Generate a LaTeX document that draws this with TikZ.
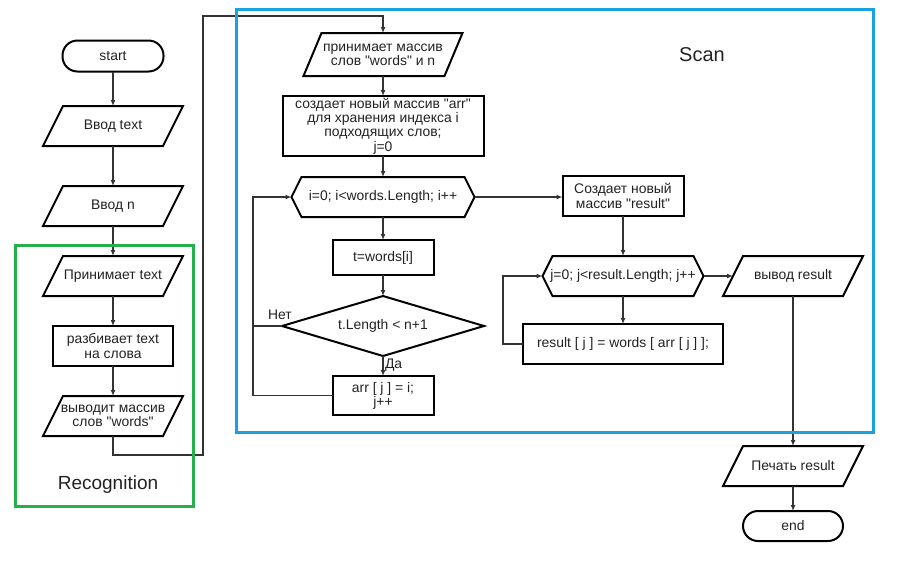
\documentclass[tikz,border=0pt]{standalone}
\usepackage{fontspec}
\setmainfont{Liberation Sans}[Ligatures=TeXOff]
\usetikzlibrary{arrows.meta,calc}
\definecolor{scanblue}{RGB}{27,161,226}
\definecolor{recgreen}{RGB}{38,176,76}
\definecolor{lnk}{RGB}{51,51,51}
\definecolor{txt}{RGB}{34,34,34}
\begin{document}
\begin{tikzpicture}[x=1pt,y=-1pt,
  every node/.style={font=\fontsize{13.9}{14.2}\selectfont, text=txt, align=center, inner sep=0pt, outer sep=0pt},
  shp/.style={draw=black, line width=2pt, line join=miter},
  boxnode/.style={shp, rectangle},
  termnode/.style={shp, rectangle, rounded corners=15pt},
  ghost/.style={rectangle, draw=none},
  conn/.style={draw=lnk, line width=1.8pt, -{Latex[length=6pt,width=5pt]}},
  plainconn/.style={draw=lnk, line width=1.8pt},
  frame/.style={line width=3pt}
]
\useasboundingbox (0,0) rectangle (916,566);

% left column
\node[termnode, minimum width=101, minimum height=31] (start) at (113,56) {start};
\node[ghost, minimum width=120, minimum height=40] (in1) at (113,126) {Ввод text};
\node[ghost, minimum width=120, minimum height=40] (in2) at (113,206) {Ввод n};
\node[ghost, minimum width=120, minimum height=40] (p1) at (113,276) {Принимает text};
\node[boxnode, minimum width=120, minimum height=40] (r1) at (113,346) {разбивает text\\на слова};
\node[ghost, minimum width=120, minimum height=40] (p2) at (113,416) {выводит массив\\слов "words"};

% scan column
\node[ghost, minimum width=141, minimum height=43] (p3) at (383,54.5) {принимает массив\\слов "words" и n};
\node[boxnode, minimum width=201, minimum height=60] (r2) at (383,126) {создает новый массив "arr"\\для хранения индекса i\\подходящих слов;\\j=0};
\node[ghost, minimum width=183, minimum height=40] (h1) at (383,197) {i=0; i<words.Length; i++};
\node[boxnode, minimum width=101, minimum height=35] (r3) at (383,257.5) {t=words[i]};
\node[ghost, minimum width=202, minimum height=60] (d1) at (383,326) {t.Length < n+1};
\node[boxnode, minimum width=101, minimum height=39] (r4) at (383,395.5) {arr [ j ] = i;\\j++};

\node[boxnode, minimum width=121, minimum height=40] (r5) at (623,196) {Создает новый\\массив "result"};
\node[ghost, minimum width=161, minimum height=40] (h2) at (623,276) {j=0; j<result.Length; j++};
\node[boxnode, minimum width=200, minimum height=40] (r6) at (623,344) {result [ j ] = words [ arr [ j ] ];};
\node[ghost, minimum width=120, minimum height=40] (p4) at (793,276) {вывод result};

\node[ghost, minimum width=120, minimum height=40] (p5) at (793,466) {Печать result};
\node[termnode, minimum width=100, minimum height=30] (end) at (793,526) {end};

% parallelograms
\foreach \n/\s in {in1/10,in2/10,p1/10,p2/10,p3/9,p4/10,p5/10}{
  \draw[shp] ($(\n.south west)+(-\s,0)$) -- ($(\n.north west)+(\s,0)$) -- ($(\n.north east)+(\s,0)$) -- ($(\n.south east)+(-\s,0)$) -- cycle;
}
% hexagons
\foreach \n in {h1,h2}{
  \draw[shp] (\n.west) -- ($(\n.north west)+(10,0)$) -- ($(\n.north east)+(-10,0)$) -- (\n.east) -- ($(\n.south east)+(-10,0)$) -- ($(\n.south west)+(10,0)$) -- cycle;
}
% diamond
\draw[shp] (d1.west) -- (d1.north) -- (d1.east) -- (d1.south) -- cycle;

% connectors left
\draw[conn] (start.south) -- (in1.north);
\draw[conn] (in1.south) -- (in2.north);
\draw[conn] (in2.south) -- (p1.north);
\draw[conn] (p1.south) -- (r1.north);
\draw[conn] (r1.south) -- (p2.north);
\coordinate (c1) at (113,455);
\coordinate (c2) at (203,455);
\coordinate (c3) at (203,16);
\coordinate (c4) at (383,16);
\draw[conn] (p2.south) -- (c1) -- (c2) -- (c3) -- (c4) -- (p3.north);

% scan connectors
\draw[conn] (p3.south) -- (r2.north);
\draw[conn] (r2.south) -- (h1.north);
\draw[conn] (h1.south) -- (r3.north);
\draw[conn] (r3.south) -- (d1.north);
\draw[conn] (d1.south) -- node[right=2pt, pos=0.45] (da) {Да} (r4.north);
\coordinate (l1) at (253,326);
\coordinate (l2) at (253,395.5);
\coordinate (l3) at (253,197);
\draw[plainconn] (d1.west) -- (l1);
\draw[conn] (r4.west) -- (l2) -- (l3) -- (h1.west);
\node (net) at (280,315) {Нет};
\draw[conn] (h1.east) -- (h1.east -| r5.west);
\draw[conn] (r5.south) -- (h2.north);
\draw[conn] (h2.south) -- (r6.north);
\draw[conn] (h2.east) -- (p4.west);
\coordinate (m1) at (503,344);
\coordinate (m2) at (503,276);
\draw[conn] (r6.west) -- (m1) -- (m2) -- (h2.west);
\draw[conn] (p4.south) -- (p5.north);
\draw[conn] (p5.south) -- (end.north);

% frames
\draw[frame, draw=recgreen] (15,245) rectangle (193,506);
\draw[frame, draw=scanblue] (236,9) rectangle (873,432);
\node[font=\fontsize{19}{22}\selectfont] (rec) at (108,485) {Recognition};
\node[font=\fontsize{20}{24}\selectfont] (scan) at (702,55) {Scan};
\end{tikzpicture}
\end{document}
